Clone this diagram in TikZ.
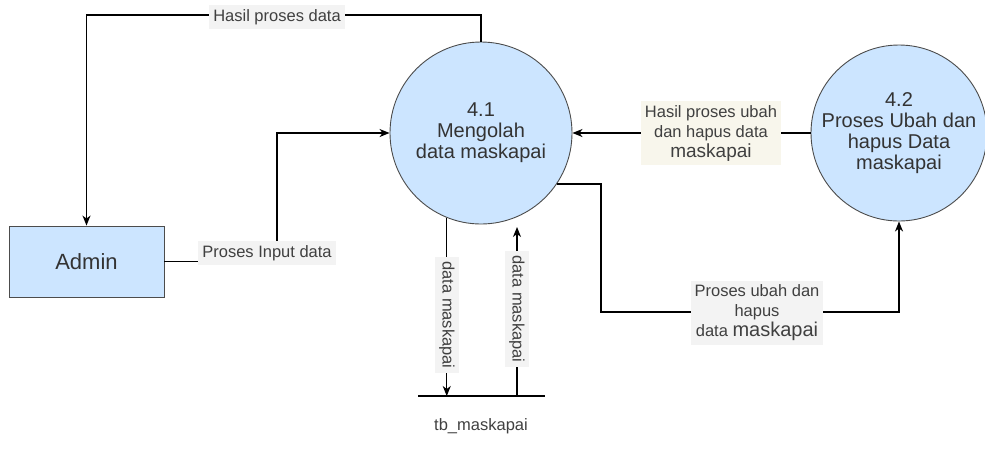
\documentclass[tikz,border=0pt]{standalone}
\usepackage{fontspec}
\setmainfont{Liberation Sans}
\usepackage{xcolor}
\definecolor{procblue}{HTML}{CCE5FF}
\definecolor{lblgray}{HTML}{F3F3F3}
\definecolor{lblbeige}{HTML}{F8F6EC}
\usepackage{tikz}
\usetikzlibrary{positioning, arrows.meta}

\begin{document}
\begin{tikzpicture}[x=1pt, y=-1pt,
  proc/.style={circle, draw=black!70, line width=0.9pt, fill=procblue, align=center,
               inner sep=0pt, text=black!80, font=\fontsize{20}{21}\selectfont},
  ent/.style={draw=black!70, line width=0.9pt, fill=procblue, minimum width=155pt,
              minimum height=71pt, text=black!80, font=\fontsize{22}{24}\selectfont},
  lbl/.style={fill=lblgray, text=black!75, align=center, inner xsep=4pt, inner ysep=4pt,
              font=\fontsize{16.5}{20}\selectfont},
  flow/.style={-{Stealth[length=10pt, width=8pt, inset=3pt]}, line width=1.3pt}
]
  \useasboundingbox (0,0) rectangle (985,451);

  \node[proc, minimum size=182pt] (p41) at (481,133) {4.1\\Mengolah\\data maskapai};
  \node[proc, minimum size=176pt] (p42) at (899,133) {4.2\\Proses Ubah dan\\hapus Data\\maskapai};
  \node[ent] (admin) at (86.5,261.5) {Admin};

  % data store
  \coordinate (dsL) at (418,396);
  \coordinate (dsR) at (545,396);
  \coordinate (dsM) at (481,396);
  \draw[line width=1.3pt] (dsL) -- (dsR);
  \node[below=19pt of dsM, text=black!75, font=\fontsize{16.5}{20}\selectfont] (store) {tb\_maskapai};

  % hasil ke admin
  \coordinate (topy) at (0,15);
  \draw[flow] (p41.north) -- (p41.north |- topy) -| (admin.north);
  \node[lbl] (l1) at (277,17) {Hasil proses data};

  % input dari admin
  \coordinate (c1) at (277,133);
  \draw[flow] (admin.east) -| (c1) -- (p41.west);
  \node[lbl] (l2) at (267,253) {Proses Input data};

  \draw[flow] (p42.west) -- (p41.east);
  \node[lbl, fill=lblbeige] (l3) at (711,133)
        {Hasil proses ubah\\dan hapus data\\{\fontsize{19}{20}\selectfont maskapai}};

  \coordinate (c2) at (601,312);
  \draw[flow] (p41.-34) -| (c2) -| (p42.south);
  \node[lbl] (l4) at (757,313)
        {Proses ubah dan\\hapus\\data {\fontsize{20}{20}\selectfont maskapai}};

  % ke/dari tb_maskapai
  \draw[flow] (p41.-112) -- (p41.-112 |- dsL);
  \node[lbl, rotate=-90] (l5) at (447,315) {data maskapai};
  \coordinate (upS) at (517,396);
  \coordinate (upE) at (517,227);
  \draw[flow] (upS) -- (upE);
  \node[lbl, rotate=-90] (l6) at (517,309) {data maskapai};
\end{tikzpicture}
\end{document}
